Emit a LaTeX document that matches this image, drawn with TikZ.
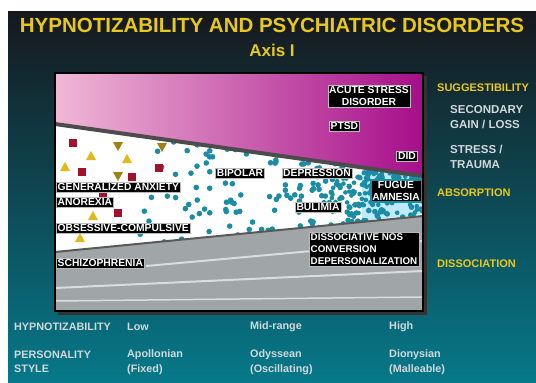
\documentclass[tikz,border=0pt]{standalone}
\usepackage{fontspec}
\setmainfont{Liberation Sans}
\usetikzlibrary{positioning}

\definecolor{slidetop}{HTML}{16181D}
\definecolor{slidemid}{HTML}{1D4654}
\definecolor{slidebot}{HTML}{06798A}
\definecolor{pinklight}{HTML}{F0B8D6}
\definecolor{pinkdark}{HTML}{A60E8A}
\definecolor{dotteal}{HTML}{1A8CA3}
\definecolor{titleyellow}{HTML}{E9C81E}
\definecolor{greyband}{HTML}{A0A5A7}
\definecolor{greystreak}{HTML}{DADDDD}
\definecolor{squarered}{HTML}{A2122C}
\definecolor{triyellow}{HTML}{E2B81A}
\definecolor{slidetext}{HTML}{D2D8DA}

\begin{document}
\begin{tikzpicture}[
		x=1pt, y=-1pt,
		tag/.style={fill=black, draw=gray!55, text=white, inner sep=1.5pt,
				font=\bfseries\fontsize{10.3}{12}\selectfont, align=center},
		axislabel/.style={text=titleyellow, anchor=west, inner sep=0pt,
				font=\bfseries\fontsize{11}{12}\selectfont},
		sidenote/.style={text=slidetext, anchor=west, inner sep=0pt, align=left,
				font=\bfseries\fontsize{11.5}{14.5}\selectfont},
		scale label/.style={text=slidetext, anchor=west, inner sep=0pt, align=left,
				font=\bfseries\fontsize{10.8}{14.5}\selectfont}
	]
	\useasboundingbox (0,0) rectangle (536,383);
	\fill[white] (0,0) rectangle (536,383);
	\shade[top color=slidetop, middle color=slidemid, bottom color=slidebot]
		(8,11) rectangle (536,383);

	% title
	\node[text=titleyellow, font=\bfseries\fontsize{20.5}{22}\selectfont] (title) at (272,25)
		{HYPNOTIZABILITY AND PSYCHIATRIC DISORDERS};
	\node[text=titleyellow, font=\bfseries\fontsize{17}{18}\selectfont, below=5pt of title] (axis)
		{Axis I};

	% panel
	\fill[black!80] (58,76) rectangle (427,315);
	\shade[left color=pinklight, right color=pinkdark]
		(55,73) -- (423,73) -- (423,176) -- (55,124) -- cycle;
	\fill[white] (55,124) -- (423,176) -- (423,216) -- (55,252) -- cycle;
	\fill[greyband] (55,252) -- (423,216) -- (423,311) -- (55,311) -- cycle;
	\fill[cyan!25!white] (362,170) -- (423,176) -- (423,214) -- (362,221) -- cycle;

	% dots
	\begin{scope}
		\clip (55,124) -- (423,176) -- (423,216) -- (55,252) -- cycle;
		\pgfmathsetseed{11}
		\foreach \i in {1,...,120}{
				\pgfmathsetmacro{\dx}{140+283*rnd}
				\pgfmathsetmacro{\dy}{125+125*rnd}
				\fill[dotteal] (\dx,\dy) circle[radius=2.8pt];
			}
		\foreach \i in {1,...,200}{
				\pgfmathsetmacro{\dx}{423-290*rnd*rnd}
				\pgfmathsetmacro{\dy}{125+125*rnd}
				\fill[dotteal] (\dx,\dy) circle[radius=2.8pt];
			}
		\foreach \i in {1,...,130}{
				\pgfmathsetmacro{\dx}{330+93*rnd}
				\pgfmathsetmacro{\dy}{160+60*rnd}
				\fill[dotteal] (\dx,\dy) circle[radius=2.3pt];
			}
	\end{scope}

	% squares and triangles
	\foreach \px/\py in {73/143, 82/172, 159/168, 132/177, 118/213, 103/197}
		\fill[squarered] (\px-4,\py-4) rectangle (\px+4,\py+4);
	\foreach \px/\py in {91/156, 127/159, 65/167, 80/238, 93/216}
		\fill[triyellow] (\px,\py-5) -- (\px+5,\py+4) -- (\px-5,\py+4) -- cycle;
	\foreach \px/\py in {118/146, 162/147, 118/176}
		\fill[triyellow!70!black] (\px,\py+5) -- (\px+5,\py-4) -- (\px-5,\py-4) -- cycle;

	% boundaries and streaks
	\draw[line width=4pt, black!70] (55,124) -- (423,176);
	\draw[line width=2pt, black!65] (55,252) -- (423,216);
	\draw[line width=2pt, greystreak] (146,266) -- (423,241);
	\draw[line width=2pt, greystreak] (55,288) -- (423,271);
	\draw[line width=1.5pt, greystreak] (55,301) -- (423,297);
	\draw[line width=2.5pt, black] (55,73) rectangle (423,311);

	% disorders
	\node[tag] (acute) at (369,96) {ACUTE STRESS\\DISORDER};
	\node[tag, anchor=west] (ptsd) at (329,126) {PTSD};
	\node[tag] (did) at (407,156) {DID};
	\node[tag] (bipolar) at (240,173) {BIPOLAR};
	\node[tag] (depression) at (317,173) {DEPRESSION};
	\node[tag, draw=dotteal, line width=1.5pt] (fugue) at (396,191) {FUGUE\\AMNESIA};
	\node[tag] (bulimia) at (318,207) {BULIMIA};
	\node[tag, anchor=west] (anxiety) at (56,187) {GENERALIZED ANXIETY};
	\node[tag, anchor=west] (anorexia) at (56,202) {ANOREXIA};
	\node[tag, anchor=west] (ocd) at (56,228) {OBSESSIVE-COMPULSIVE};
	\node[tag, anchor=west] (schizo) at (56,263) {SCHIZOPHRENIA};
	\node[tag, align=left, anchor=west, font=\bfseries\fontsize{9.8}{12}\selectfont] (dissnos) at (309,249)
		{DISSOCIATIVE NOS\\CONVERSION\\DEPERSONALIZATION};

	% right hand scale
	\node[axislabel] (suggest) at (437,88) {SUGGESTIBILITY};
	\node[sidenote] (gain) at (450,117) {SECONDARY\\GAIN / LOSS};
	\node[sidenote] (stress) at (450,157) {STRESS /\\TRAUMA};
	\node[axislabel] (absorb) at (437,193) {ABSORPTION};
	\node[axislabel] (dissoc) at (437,264) {DISSOCIATION};

	% bottom rows
	\node[scale label] (hyp) at (14,327) {HYPNOTIZABILITY};
	\node[scale label] (low) at (127,327) {Low};
	\node[scale label] (mid) at (250,327) {Mid-range};
	\node[scale label] (high) at (389,327) {High};
	\node[scale label] (pers) at (14,362) {PERSONALITY\\STYLE};
	\node[scale label] (apol) at (127,362) {Apollonian\\(Fixed)};
	\node[scale label] (odys) at (250,362) {Odyssean\\(Oscillating)};
	\node[scale label] (diony) at (389,362) {Dionysian\\(Malleable)};
\end{tikzpicture}
\end{document}
